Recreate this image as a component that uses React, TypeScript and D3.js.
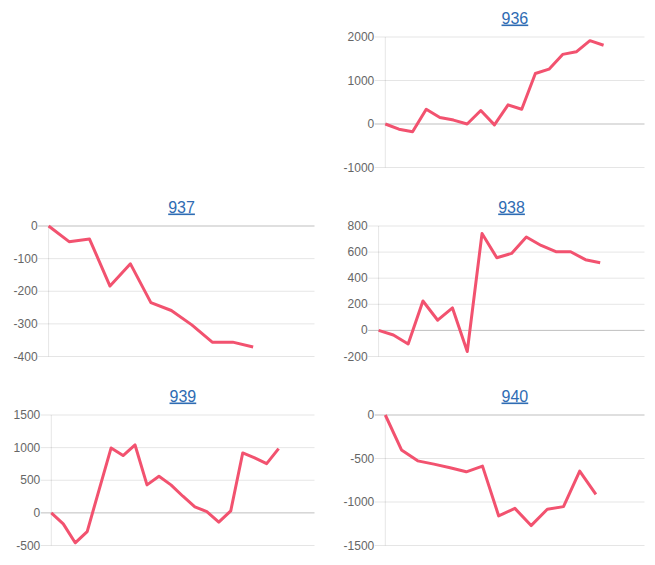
import React from "react";
import * as d3 from "d3";

// ---- data ----
const titles = ["936", "937", "938", "939", "940"];

const series936 = [0, -120, -180, 340, 150, 90, 0, 310, -20, 440, 340, 1160, 1260, 1600, 1660, 1915, 1810];
const series937 = [0, -48, -40, -184, -116, -235, -259, -303, -356, -356, -371];
const series938 = [0, -35, -104, 225, 78, 172, -162, 742, 557, 590, 716, 651, 603, 603, 542, 519];
const series939 = [0, -168, -459, -286, 357, 995, 878, 1041, 429, 561, 429, 255, 92, 20, -143, 31, 918, 842, 755, 985];
const series940 = [0, -401, -527, -565, -607, -653, -588, -1160, -1073, -1271, -1084, -1053, -645, -912];

const slotCounts = [20, 14, 19, 23, 17];

const ticks936 = [-1000, 0, 1000, 2000];
const ticks937 = [-400, -300, -200, -100, 0];
const ticks938 = [-200, 0, 200, 400, 600, 800];
const ticks939 = [-500, 0, 500, 1000, 1500];
const ticks940 = [-1500, -1000, -500, 0];

const allSeries = [series936, series937, series938, series939, series940];
const allTicks = [ticks936, ticks937, ticks938, ticks939, ticks940];

// layout (column, row) per panel
const cells: [number, number][] = [
  [1, 0],
  [0, 1],
  [1, 1],
  [0, 2],
  [1, 2],
];

const FONT = "'Helvetica Neue', Helvetica, Arial, sans-serif";
const LINE_COLOR = "#f2526f";

function labelWidth(s: string) {
  let w = 0;
  for (const ch of s) w += ch === "-" ? 4.0 : 6.674;
  return w;
}

function Panel({ idx }: { idx: number }) {
  const [col, row] = cells[idx];
  const colX = col * 330;
  const rowY = row * 189;
  const data = allSeries[idx];
  const ticks = allTicks[idx];
  const labels = ticks.map((t) => String(t));
  const maxW = d3.max(labels, labelWidth) as number;
  const left = colX + 24.6 + maxW;
  const right = colX + 314.5;
  const top = rowY + 37;
  const bottom = rowY + 167.5;

  const x = d3.scaleLinear().domain([0, slotCounts[idx] - 1]).range([left, right]);
  const y = d3
    .scaleLinear()
    .domain([d3.min(ticks) as number, d3.max(ticks) as number])
    .range([bottom, top]);

  const line = d3
    .line<number>()
    .x((_, i) => x(i))
    .y((d) => y(d));

  const titleX = (left + right) / 2;

  return (
    <g>
      <text
        x={titleX}
        y={rowY + 23.5}
        textAnchor="middle"
        fontFamily={FONT}
        fontSize={16}
        fill="#2f6cb3"
        textDecoration="underline"
      >
        {titles[idx]}
      </text>
      {ticks.map((t) => (
        <g key={t}>
          <line
            x1={left - 10.5}
            x2={right}
            y1={y(t)}
            y2={y(t)}
            stroke={t === 0 ? "rgba(0,0,0,0.25)" : "rgba(0,0,0,0.1)"}
            strokeWidth={1}
          />
          <text
            x={left - 11}
            y={y(t)}
            textAnchor="end"
            dominantBaseline="central"
            fontFamily={FONT}
            fontSize={12}
            fill="#666"
          >
            {t}
          </text>
        </g>
      ))}
      <line x1={left} x2={left} y1={top} y2={bottom} stroke="rgba(0,0,0,0.1)" strokeWidth={1} />
      <path
        d={line(data) || ""}
        fill="none"
        stroke={LINE_COLOR}
        strokeWidth={3}
        strokeLinejoin="round"
        strokeLinecap="butt"
      />
    </g>
  );
}

export default function App() {
  return (
    <svg
      width={655}
      height={565}
      style={{ position: "absolute", left: 0, top: 0, background: "#fff" }}
    >
      {titles.map((_, i) => (
        <Panel key={i} idx={i} />
      ))}
    </svg>
  );
}
